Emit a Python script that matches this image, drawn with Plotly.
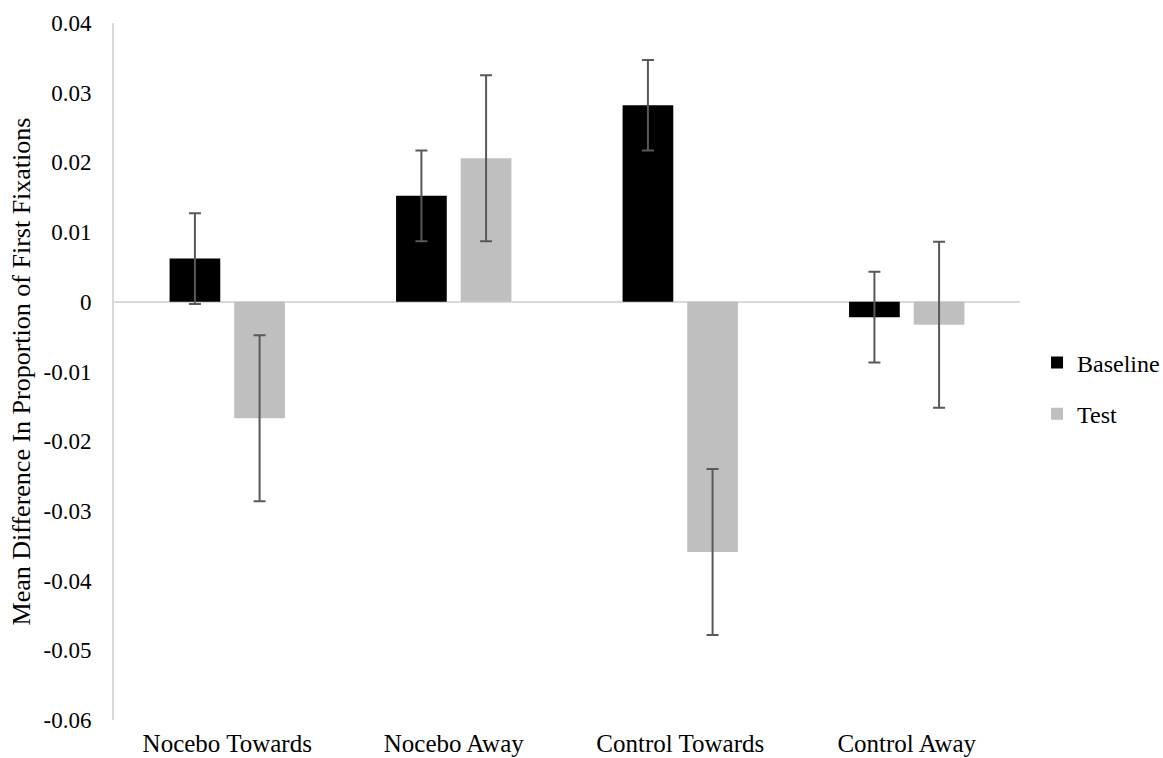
import plotly.graph_objects as go

categories = ["Nocebo Towards", "Nocebo Away", "Control Towards", "Control Away"]
baseline = [0.0062, 0.0152, 0.0282, -0.0022]
baseline_err = [0.0065, 0.0065, 0.0065, 0.0065]
test = [-0.0167, 0.0206, -0.0359, -0.0033]
test_err = [0.0119, 0.0119, 0.0119, 0.0119]
tick_vals = [0.04, 0.03, 0.02, 0.01, 0, -0.01, -0.02, -0.03, -0.04, -0.05, -0.06]
tick_text = ["0.04", "0.03", "0.02", "0.01", "0", "-0.01", "-0.02", "-0.03", "-0.04", "-0.05", "-0.06"]

font_family = "Liberation Serif, Times New Roman, serif"
err_style = dict(type="data", thickness=2, width=6, color="#595959")

fig = go.Figure()
fig.add_trace(go.Bar(
    name="Baseline", x=categories, y=baseline, legendgroup="b",
    marker=dict(color="#000000", line=dict(width=0)),
    error_y=dict(array=baseline_err, **err_style),
))
fig.add_trace(go.Bar(
    name="Test", x=categories, y=test, legendgroup="t",
    marker=dict(color="#bfbfbf", line=dict(width=0)),
    error_y=dict(array=test_err, **err_style),
))

fig.update_layout(
    width=1163, height=758,
    margin=dict(l=114, r=143, t=23, b=38, autoexpand=False),
    paper_bgcolor="white", plot_bgcolor="white",
    barmode="group", bargap=0.429, bargroupgap=0.216,
    font=dict(family=font_family, size=23, color="#000000"),
    showlegend=True,
    legend=dict(x=1.0188, xanchor="left", y=0.4756, yanchor="middle",
                font=dict(size=24), itemwidth=30, tracegroupgap=17),
    xaxis=dict(showline=False, showgrid=False, zeroline=False,
               ticks="outside", ticklen=1, tickcolor="white",
               tickfont=dict(size=25), automargin=False),
    yaxis=dict(range=[-0.06, 0.04], tickvals=tick_vals, ticktext=tick_text,
               showgrid=False, showline=True, linecolor="#d9d9d9", linewidth=2,
               zeroline=True, zerolinecolor="#d9d9d9", zerolinewidth=2,
               ticks="outside", ticklen=16, tickcolor="white",
               tickfont=dict(size=23), automargin=False,
               title=dict(text="Mean Difference In Proportion of First Fixations",
                          font=dict(size=26), standoff=5)),
)

fig.write_html("out.html",
               config={"displayModeBar": False},
               post_script="document.body.style.margin='0';document.body.style.overflow='hidden';")
